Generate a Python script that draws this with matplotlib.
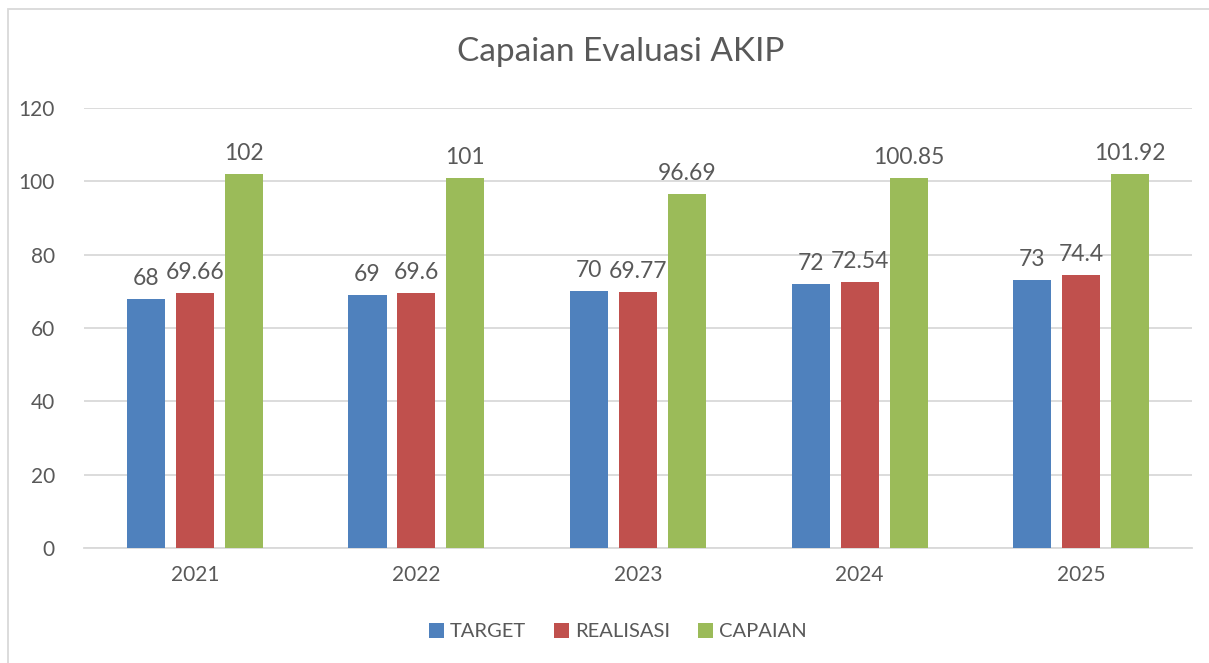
import matplotlib
matplotlib.use("Agg")
import matplotlib.pyplot as plt
import numpy as np
from matplotlib.patches import Rectangle

years = ["2021", "2022", "2023", "2024", "2025"]
target = [68, 69, 70, 72, 73]
realisasi = [69.66, 69.6, 69.77, 72.54, 74.4]
capaian = [102, 101, 96.69, 100.85, 101.92]
target_labels = ["68", "69", "70", "72", "73"]
realisasi_labels = ["69.66", "69.6", "69.77", "72.54", "74.4"]
capaian_labels = ["102", "101", "96.69", "100.85", "101.92"]

series = [("TARGET", target, target_labels, "#4F81BD"),
          ("REALISASI", realisasi, realisasi_labels, "#C0504D"),
          ("CAPAIAN", capaian, capaian_labels, "#9BBB59")]

plt.rcParams['font.family'] = ['Lato', 'DejaVu Sans']
txt = "#595959"

fig = plt.figure(figsize=(12.09, 6.63), dpi=100)
ax = fig.add_axes([0.0695, 0.1735, 0.9165, 0.6635])

x = np.arange(len(years))
w = 0.172
off = 0.221
for i, (name, vals, labs, col) in enumerate(series):
    pos = x + (i - 1) * off
    ax.bar(pos, vals, width=w, color=col, label=name, zorder=3)
    for p, v, l in zip(pos, vals, labs):
        ax.text(p, v + 2.7, l, ha="center", va="bottom", fontsize=16.5, color=txt)

ax.set_xlim(-0.5, len(years) - 0.5)
ax.set_ylim(0, 120)
ax.set_yticks(range(0, 121, 20))
ax.set_xticks(x)
ax.set_xticklabels(years)
ax.tick_params(axis="both", length=0, labelsize=15, colors=txt)
ax.tick_params(axis="y", pad=21)
ax.tick_params(axis="x", pad=12)
ax.grid(axis="y", color="#D9D9D9", linewidth=1.3, zorder=0)
for s in ["top", "right", "left"]:
    ax.spines[s].set_visible(False)
ax.spines["bottom"].set_color("#D9D9D9")
ax.spines["bottom"].set_linewidth(1.3)

fig.text(0.5135, 0.921, "Capaian Evaluasi AKIP", ha="center", va="center",
         fontsize=24, color=txt)

leg = fig.legend(loc="center", bbox_to_anchor=(0.511, 0.047), ncol=3, frameon=False,
                 fontsize=14.5, handlelength=0.72, handleheight=0.72,
                 handletextpad=0.3, columnspacing=1.4)
for t in leg.get_texts():
    t.set_color(txt)

fig.patches.append(Rectangle((8/1209, -0.01), 1.02, 1 - 9/663 + 0.01,
                             transform=fig.transFigure, fill=False,
                             edgecolor="#D9D9D9", linewidth=1.3))

fig.savefig("out.png", dpi=100)
